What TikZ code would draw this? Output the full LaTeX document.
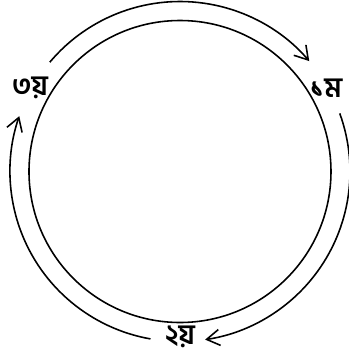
\documentclass[tikz,border=0pt]{standalone}
\usepackage{fontspec}
\usetikzlibrary{arrows.meta}
\newfontfamily\bnfont[Script=Bengali]{Hind Siliguri}
\begin{document}
\begin{tikzpicture}[x=1mm, y=1mm, >={Straight Barb[length=1.3mm,width=1.6mm]}, line width=0.45pt,
		lbl/.style={font=\bnfont\bfseries\fontsize{8}{10}\selectfont, inner sep=0pt}]
	% frame
	\useasboundingbox (0,0) rectangle (34.8,35.7);
	\coordinate (C) at (18.0,18.55);
	
	% inner circle
	\draw (C) circle (15.1);
	
	% labels
	\node[lbl] (first)  at (32.6,26.9) {১ম};
	\node[lbl] (second) at (18.0,2.0)  {২য়};
	\node[lbl] (third)  at (3.0,26.9)  {৩য়};
	
	% outer arrows, clockwise
	\draw[->] ([shift={(140:17)}]C) arc[start angle=140, end angle=40.5, radius=17];
	\draw[->] ([shift={(20:17)}]C) arc[start angle=20, end angle=-81.5, radius=17];
	\draw[->] ([shift={(260:17)}]C) arc[start angle=260, end angle=161, radius=17];
\end{tikzpicture}
\end{document}
